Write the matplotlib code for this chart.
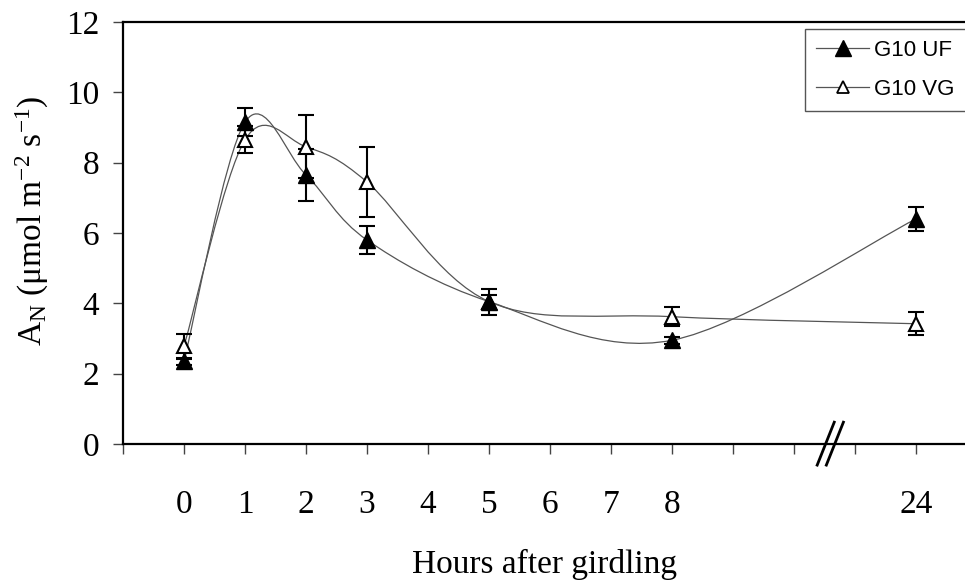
import numpy as np
import matplotlib
matplotlib.use('Agg')
import matplotlib.pyplot as plt
from matplotlib.path import Path
from matplotlib.patches import PathPatch
from matplotlib.lines import Line2D

plt.rcParams['font.family'] = 'Liberation Serif'
plt.rcParams['mathtext.fontset'] = 'custom'
plt.rcParams['mathtext.rm'] = 'Liberation Serif'
plt.rcParams['mathtext.it'] = 'Liberation Serif:italic'

# data (24 h sits after the axis break, at slot 12)
hours = [0, 1, 2, 3, 5, 8, 24]
x_pos = [0, 1, 2, 3, 5, 8, 12]
uf = [2.35, 9.15, 7.65, 5.8, 4.05, 2.95, 6.4]
uf_err = [0.1, 0.4, 0.75, 0.4, 0.2, 0.1, 0.33]
vg = [2.78, 8.65, 8.45, 7.45, 4.05, 3.62, 3.42]
vg_err = [0.35, 0.38, 0.9, 1.0, 0.37, 0.27, 0.33]

tick_pos = list(range(-1, 13))
tick_lab = {0: '0', 1: '1', 2: '2', 3: '3', 4: '4', 5: '5', 6: '6', 7: '7', 8: '8', 12: '24'}


def smooth_path(xs, ys):
    # Excel-like smoothed line: cubic bezier through the points
    pts = np.column_stack([xs, ys]).astype(float)
    n = len(pts)
    verts = [pts[0]]
    codes = [Path.MOVETO]
    for i in range(n - 1):
        p0 = pts[i - 1] if i > 0 else pts[i]
        p1 = pts[i]
        p2 = pts[i + 1]
        p3 = pts[i + 2] if i + 2 < n else pts[i + 1]
        c1 = p1 + (p2 - p0) / 6
        c2 = p2 - (p3 - p1) / 6
        verts += [c1, c2, p2]
        codes += [Path.CURVE4] * 3
    return Path(verts, codes)


fig = plt.figure(figsize=(9.65, 5.8), dpi=100)
ax = fig.add_axes([123 / 965, 136 / 580, 854 / 965, 422 / 580])

line_col = '#555555'
for ys in (uf, vg):
    ax.add_patch(PathPatch(smooth_path(x_pos, ys), facecolor='none',
                           edgecolor=line_col, lw=0.9, zorder=2))

ax.errorbar(x_pos, vg, yerr=vg_err, fmt='none', ecolor='black',
            elinewidth=1.5, capsize=6, capthick=1.5, zorder=3)
ax.errorbar(x_pos, uf, yerr=uf_err, fmt='none', ecolor='black',
            elinewidth=1.5, capsize=6, capthick=1.5, zorder=3)
ax.plot(x_pos, vg, linestyle='none', marker='^', ms=10, mfc='white',
        mec='black', mew=1.5, zorder=4)
ax.plot(x_pos, uf, linestyle='none', marker='^', ms=11, mfc='black',
        mec='black', mew=1, zorder=5)

ax.set_xlim(-1, 13)
ax.set_ylim(0, 12)
ax.set_xticks(tick_pos)
ax.set_xticklabels([tick_lab.get(p, '') for p in tick_pos])
ax.set_yticks(np.arange(0, 13, 2))
ax.tick_params(axis='x', direction='out', length=7, width=1, color='#444444',
               labelsize=24, pad=26)
ax.tick_params(axis='y', direction='out', length=7, width=1, color='#444444',
               labelsize=24, pad=10)

for s in ('left', 'bottom', 'top'):
    ax.spines[s].set_linewidth(1.6)
    ax.spines[s].set_color('black')
ax.spines['right'].set_visible(False)

# axis break marks
for xb in (10.52, 10.67):
    ax.plot([xb - 0.14, xb + 0.14], [-0.6, 0.62], color='black', lw=2,
            clip_on=False, zorder=6)

ax.set_xlabel('Hours after girdling', fontsize=24)
ax.xaxis.label.set_va('bottom')
ax.xaxis.set_label_coords(0.494, -0.322)
ax.set_ylabel('A$_\\mathrm{N}$ (μmol m$^{-2}$ s$^{-1}$)', fontsize=24)
ax.yaxis.set_label_coords(-0.084, 0.53)

handles = [Line2D([], [], color=line_col, lw=0.9, marker='^', ms=11, mfc='black', mec='black'),
           Line2D([], [], color=line_col, lw=0.9, marker='^', ms=9, mfc='white', mec='black', mew=1.3)]
leg = ax.legend(handles, ['G10 UF', 'G10 VG'], loc='upper left',
                bbox_to_anchor=(805 / 965, 1 - 110 / 580, 200 / 965, 81 / 580),
                bbox_transform=fig.transFigure, mode='expand',
                borderaxespad=0, fancybox=False, framealpha=1, edgecolor='#555555',
                prop={'family': 'Liberation Sans', 'size': 16}, handlelength=2.4,
                handletextpad=0.2, labelspacing=0.8, borderpad=0.5)
leg.get_frame().set_linewidth(1)

fig.savefig('out.png', dpi=100)
